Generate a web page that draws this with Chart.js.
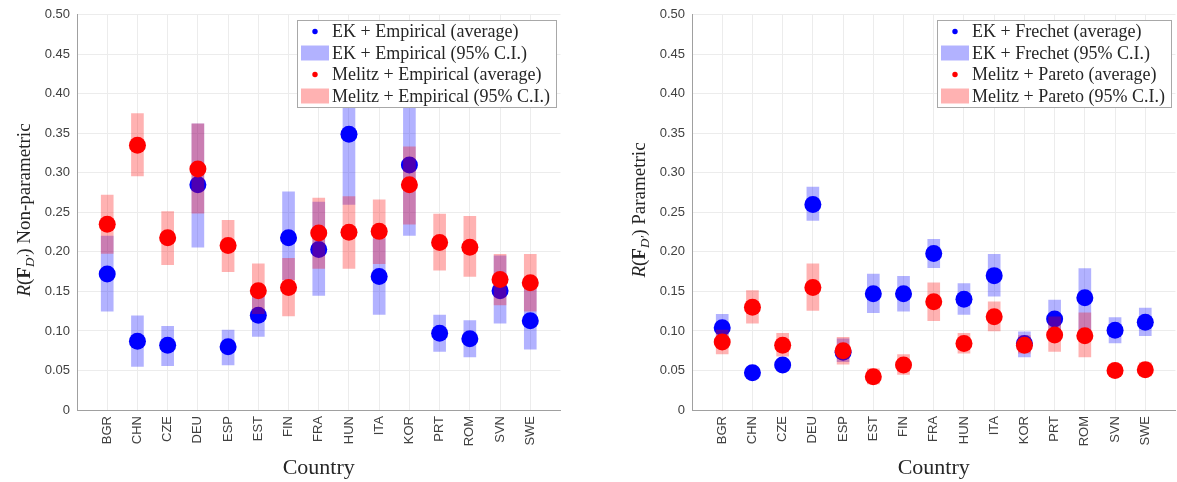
<!DOCTYPE html>
<html>
<head>
<meta charset="utf-8">
<script src="https://cdn.jsdelivr.net/npm/chart.js@4.4.1/dist/chart.umd.min.js"></script>
<style>
  html, body { margin: 0; padding: 0; background: #fff; overflow: hidden; }
  .panel { position: absolute; top: 0; width: 569px; height: 482px; }
</style>
</head>
<body>
<div class="panel" style="left:0"><canvas id="leftChart"></canvas></div>
<div class="panel" style="left:615px"><canvas id="rightChart"></canvas></div>
<script>
// categorias (eixo x)
const countries = ['BGR', 'CHN', 'CZE', 'DEU', 'ESP', 'EST', 'FIN', 'FRA', 'HUN', 'ITA', 'KOR', 'PRT', 'ROM', 'SVN', 'SWE'];
const yTicks = [0, 0.05, 0.10, 0.15, 0.20, 0.25, 0.30, 0.35, 0.40, 0.45, 0.50];

// painel esquerdo - não paramétrico
const ekEmpAvg = [0.172, 0.087, 0.082, 0.285, 0.080, 0.120, 0.218, 0.203, 0.349, 0.169, 0.310, 0.097, 0.090, 0.151, 0.113];
const ekEmpLo  = [0.125, 0.055, 0.056, 0.206, 0.057, 0.093, 0.165, 0.145, 0.260, 0.121, 0.221, 0.074, 0.067, 0.110, 0.077];
const ekEmpHi  = [0.220, 0.119, 0.106, 0.362, 0.101, 0.144, 0.276, 0.263, 0.420, 0.217, 0.410, 0.120, 0.113, 0.195, 0.154];
const melEmpAvg = [0.235, 0.335, 0.218, 0.305, 0.208, 0.151, 0.155, 0.224, 0.225, 0.226, 0.285, 0.212, 0.206, 0.165, 0.161];
const melEmpLo  = [0.198, 0.296, 0.184, 0.249, 0.175, 0.122, 0.119, 0.179, 0.179, 0.185, 0.235, 0.177, 0.169, 0.133, 0.125];
const melEmpHi  = [0.272, 0.375, 0.251, 0.362, 0.240, 0.185, 0.192, 0.268, 0.270, 0.266, 0.333, 0.248, 0.245, 0.197, 0.197];

// painel direito - paramétrico
const ekFreAvg = [0.104, 0.047, 0.057, 0.260, 0.073, 0.147, 0.147, 0.198, 0.140, 0.170, 0.084, 0.115, 0.142, 0.101, 0.111];
const ekFreLo  = [0.088, 0.043, 0.052, 0.240, 0.061, 0.123, 0.125, 0.180, 0.121, 0.144, 0.067, 0.094, 0.100, 0.085, 0.094];
const ekFreHi  = [0.121, 0.052, 0.062, 0.282, 0.090, 0.172, 0.169, 0.216, 0.160, 0.197, 0.099, 0.139, 0.179, 0.117, 0.129];
const melParAvg = [0.086, 0.130, 0.082, 0.155, 0.075, 0.042, 0.057, 0.137, 0.084, 0.118, 0.082, 0.095, 0.094, 0.050, 0.051];
const melParLo  = [0.071, 0.110, 0.068, 0.126, 0.058, 0.033, 0.045, 0.113, 0.072, 0.100, 0.072, 0.074, 0.067, 0.043, 0.043];
const melParHi  = [0.101, 0.151, 0.097, 0.185, 0.092, 0.052, 0.070, 0.161, 0.097, 0.137, 0.094, 0.118, 0.123, 0.058, 0.060];

const BLUE = 'rgb(0, 0, 255)';
const RED = 'rgb(255, 0, 0)';
const BLUE_CI = 'rgba(0, 0, 255, 0.3)';
const RED_CI = 'rgba(255, 0, 0, 0.3)';
const SERIF = '"Liberation Serif", "Times New Roman", serif';
const SANS = '"Liberation Sans", Arial, sans-serif';

const points = (vals) => vals.map((v, i) => ({ x: i + 1, y: v }));
const ranges = (lo, hi) => lo.map((v, i) => ({ x: i + 1, y: [v, hi[i]] }));

// titulo do eixo y com subscrito (R(F_D'))
function drawYTitle(ctx, x, y, suffix) {
    const runs = [
        { t: 'R', font: 'italic 19px ' + SERIF, dy: 0 },
        { t: '(', font: '19px ' + SERIF, dy: 0 },
        { t: 'F', font: 'bold 19px ' + SERIF, dy: 0 },
        { t: 'D′', font: 'italic 13px ' + SERIF, dy: 4 },
        { t: ')', font: '19px ' + SERIF, dy: 0 },
        { t: ' ' + suffix, font: '19px ' + SERIF, dy: 0 }
    ];
    ctx.save();
    ctx.translate(x, y);
    ctx.rotate(-Math.PI / 2);
    let total = 0;
    runs.forEach(r => { ctx.font = r.font; r.w = ctx.measureText(r.t).width; total += r.w; });
    let cx = -total / 2;
    ctx.fillStyle = '#262626';
    ctx.textBaseline = 'alphabetic';
    runs.forEach(r => { ctx.font = r.font; ctx.fillText(r.t, cx, 6 + r.dy); cx += r.w; });
    ctx.restore();
}

// legenda dentro da area do grafico
function drawLegend(chart) {
    const ctx = chart.ctx;
    const area = chart.chartArea;
    const items = chart.data.datasets;
    ctx.save();
    ctx.font = '18px ' + SERIF;
    const textW = Math.max(...items.map(d => ctx.measureText(d.label).width));
    const w = Math.round(textW + 41);
    const h = 87;
    const x0 = Math.round(area.right - 5 - w);
    const y0 = Math.round(area.top + 5);
    ctx.fillStyle = '#fff';
    ctx.fillRect(x0, y0, w, h);
    ctx.strokeStyle = '#a8a8a8';
    ctx.lineWidth = 1;
    ctx.strokeRect(x0 + 0.5, y0 + 0.5, w, h);
    items.forEach((d, i) => {
        const cy = y0 + 11.5 + i * 21.5;
        ctx.fillStyle = d.backgroundColor;
        if (d.type === 'scatter') {
            ctx.beginPath();
            ctx.arc(x0 + 18, cy, 2.7, 0, 2 * Math.PI);
            ctx.fill();
        } else {
            ctx.fillRect(x0 + 4, cy - 7.5, 28, 15);
        }
        ctx.fillStyle = '#262626';
        ctx.textBaseline = 'middle';
        ctx.fillText(d.label, x0 + 35, cy + 1);
    });
    ctx.restore();
}

function buildChart(canvasId, yTitle, labels, avgA, loA, hiA, avgB, loB, hiB) {
    const decor = {
        id: 'decor',
        afterDraw(chart) {
            drawLegend(chart);
            drawYTitle(chart.ctx, 24, 210, yTitle);
        }
    };
    return new Chart(document.getElementById(canvasId), {
        type: 'bar',
        data: {
            datasets: [
                { type: 'scatter', label: labels[0], data: points(avgA), backgroundColor: BLUE, borderWidth: 0, pointRadius: 8.5, pointHoverRadius: 8.5, order: 3 },
                { type: 'bar', label: labels[1], data: ranges(loA, hiA), backgroundColor: BLUE_CI, borderWidth: 0, barThickness: 12, grouped: false, order: 4 },
                { type: 'scatter', label: labels[2], data: points(avgB), backgroundColor: RED, borderWidth: 0, pointRadius: 8.5, pointHoverRadius: 8.5, order: 1 },
                { type: 'bar', label: labels[3], data: ranges(loB, hiB), backgroundColor: RED_CI, borderWidth: 0, barThickness: 12, grouped: false, order: 2 }
            ]
        },
        options: {
            responsive: true,
            maintainAspectRatio: false,
            animation: false,
            events: [],
            layout: { padding: { top: 10, right: 2, left: 0, bottom: 0 } },
            plugins: { legend: { display: false }, tooltip: { enabled: false } },
            scales: {
                x: {
                    type: 'linear',
                    min: 0,
                    max: 16,
                    offset: false,
                    afterBuildTicks: (scale) => { scale.ticks = countries.map((c, i) => ({ value: i + 1 })); },
                    afterFit: (scale) => {
                        scale.height = 72;
                        scale.paddingLeft = 0;
                        scale.paddingRight = 0;
                    },
                    ticks: {
                        autoSkip: false,
                        minRotation: 90,
                        maxRotation: 90,
                        padding: 6,
                        color: '#404040',
                        font: { family: SANS, size: 13 },
                        callback: (v) => countries[v - 1] || ''
                    },
                    grid: { color: '#ececec', drawTicks: false, offset: false },
                    border: { color: '#a0a0a0' },
                    title: {
                        display: true,
                        text: 'Country',
                        color: '#262626',
                        font: { family: SERIF, size: 22 },
                        padding: { top: 0, bottom: 1 }
                    }
                },
                y: {
                    min: 0,
                    max: 0.5,
                    afterBuildTicks: (scale) => { scale.ticks = yTicks.map(v => ({ value: v })); },
                    afterFit: (scale) => { scale.width = 77; },
                    ticks: {
                        padding: 7,
                        color: '#404040',
                        font: { family: SANS, size: 13 },
                        callback: (v) => v === 0 ? '0' : v.toFixed(2)
                    },
                    grid: { color: '#ececec', drawTicks: false },
                    border: { color: '#a0a0a0' }
                }
            }
        },
        plugins: [decor]
    });
}

buildChart('leftChart', 'Non-parametric',
    ['EK + Empirical (average)', 'EK + Empirical (95% C.I.)', 'Melitz + Empirical (average)', 'Melitz + Empirical (95% C.I.)'],
    ekEmpAvg, ekEmpLo, ekEmpHi, melEmpAvg, melEmpLo, melEmpHi);

buildChart('rightChart', 'Parametric',
    ['EK + Frechet (average)', 'EK + Frechet (95% C.I.)', 'Melitz + Pareto (average)', 'Melitz + Pareto (95% C.I.)'],
    ekFreAvg, ekFreLo, ekFreHi, melParAvg, melParLo, melParHi);
</script>
</body>
</html>
